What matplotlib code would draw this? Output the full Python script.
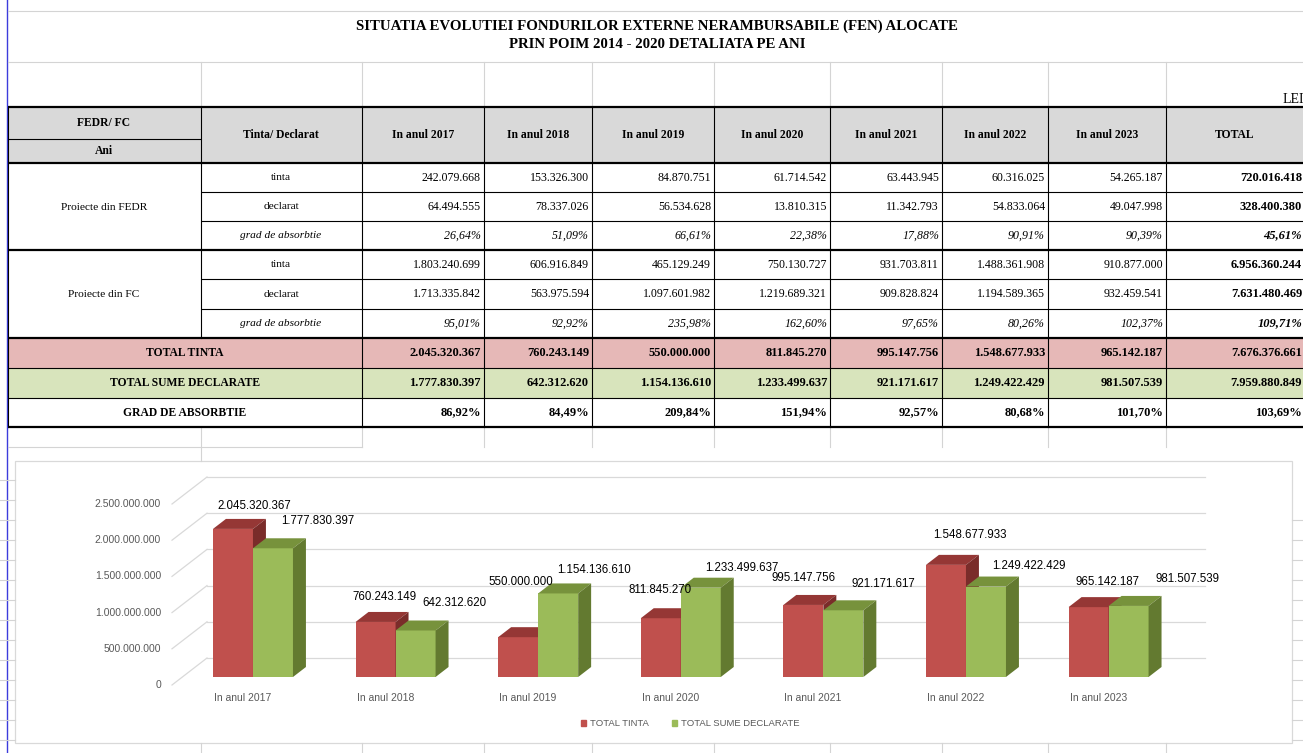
import matplotlib

matplotlib.use("Agg")
import matplotlib.pyplot as plt  # noqa: E402
from matplotlib.patches import Patch, Polygon, Rectangle  # noqa: E402

# ---- data (lei) -------------------------------------------------------------
columns = ["In anul 2017", "In anul 2018", "In anul 2019", "In anul 2020",
           "In anul 2021", "In anul 2022", "In anul 2023", "TOTAL"]

fedr_tinta = [242079668, 153326300, 84870751, 61714542, 63443945, 60316025, 54265187, 720016418]
fedr_declarat = [64494555, 78337026, 56534628, 13810315, 11342793, 54833064, 49047998, 328400380]
fedr_grad = [26.64, 51.09, 66.61, 22.38, 17.88, 90.91, 90.39, 45.61]

fc_tinta = [1803240699, 606916849, 465129249, 750130727, 931703811, 1488361908, 910877000, 6956360244]
fc_declarat = [1713335842, 563975594, 1097601982, 1219689321, 909828824, 1194589365, 932459541, 7631480469]
fc_grad = [95.01, 92.92, 235.98, 162.60, 97.65, 80.26, 102.37, 109.71]

total_tinta = [2045320367, 760243149, 550000000, 811845270, 995147756, 1548677933, 965142187, 7676376661]
total_declarat = [1777830397, 642312620, 1154136610, 1233499637, 921171617, 1249422429, 981507539, 7959880849]
grad_total = [86.92, 84.49, 209.84, 151.94, 92.57, 80.68, 101.70, 103.69]

y_ticks = [0, 500000000, 1000000000, 1500000000, 2000000000, 2500000000]

RED, RED_TOP, RED_SIDE = "#C0504D", "#953735", "#7A2C2A"
GRN, GRN_TOP, GRN_SIDE = "#9BBB59", "#77923C", "#637A30"
GRID = "#d9d9d9"
SHEET = "#d4d4d4"
SERIF = "Liberation Serif"
SANS = "Liberation Sans"


def fmt_int(v):
    return f"{v:,}".replace(",", ".")


def fmt_pct(p):
    return f"{p:.2f}%".replace(".", ",")


W, H = 1303, 753
fig = plt.figure(figsize=(W / 100, H / 100), dpi=100, facecolor="white")
bg = fig.add_axes([0, 0, 1, 1], zorder=1)
bg.set_xlim(0, W)
bg.set_ylim(H, 0)
bg.axis("off")

# ---- spreadsheet frame ------------------------------------------------------
col_x = [8, 201, 362, 484, 592, 714, 830, 942, 1048, 1166, 1305]
row_y = [163, 192, 221, 250, 279, 309, 338, 368, 398, 427]
thin, thick = 0.8, 1.6

bg.plot([7, 7], [0, H], color="#3c3cdc", lw=1.0)
for y in (11, 62):
    bg.plot([8, W], [y, y], color=SHEET, lw=0.8)
for x in col_x[1:-1]:
    bg.plot([x, x], [62, 107], color=SHEET, lw=0.8)
    bg.plot([x, x], [427, 461 if x == 201 else 447], color=SHEET, lw=0.8)
    bg.plot([x, x], [743, H], color=SHEET, lw=0.8)
bg.plot([8, 362], [447, 447], color=SHEET, lw=0.8)
for k in range(14):
    bg.plot([0, 15], [480 + 20 * k, 480 + 20 * k], color=SHEET, lw=0.8)
for k in range(12):
    bg.plot([1292, W], [520 + 20 * k, 520 + 20 * k], color=SHEET, lw=0.8)

bg.text(657, 26, "SITUATIA EVOLUTIEI FONDURILOR EXTERNE NERAMBURSABILE (FEN) ALOCATE",
        family=SERIF, weight="bold", fontsize=10.7, ha="center", va="center")
bg.text(657, 44, "PRIN POIM 2014 - 2020 DETALIATA PE ANI",
        family=SERIF, weight="bold", fontsize=10.7, ha="center", va="center")
bg.text(1283, 99, "LEI", family=SERIF, fontsize=10, ha="left", va="center")

# ---- table ------------------------------------------------------------------
bg.add_patch(Rectangle((8, 107), 1302, 56, facecolor="#D9D9D9", edgecolor="none"))
bg.add_patch(Rectangle((8, 338), 1302, 30, facecolor="#E6B8B7", edgecolor="none"))
bg.add_patch(Rectangle((8, 368), 1302, 30, facecolor="#D8E4BC", edgecolor="none"))

for y, lw, x0 in [(107, thick, 8), (139, thin, 8), (163, thick, 8), (192, thin, 201),
                  (221, thin, 201), (250, thick, 8), (279, thin, 201), (309, thin, 201),
                  (338, thick, 8), (368, thin, 8), (398, thin, 8), (427, thick, 8)]:
    x1 = 201 if y == 139 else W
    bg.plot([x0, x1], [y, y], color="black", lw=lw, solid_capstyle="butt")
for x in col_x[:-1]:
    y1 = 338 if x == 201 else 427
    bg.plot([x, x], [107, y1], color="black", lw=thin)

bg.text(104, 123, "FEDR/ FC", family=SERIF, weight="bold", fontsize=8.4, ha="center", va="center")
bg.text(104, 151, "Ani", family=SERIF, weight="bold", fontsize=8.4, ha="center", va="center")
bg.text(281, 135, "Tinta/ Declarat", family=SERIF, weight="bold", fontsize=8.4,
        ha="center", va="center")
for j, name in enumerate(columns):
    cx = (col_x[j + 2] + col_x[j + 3]) / 2 if j < 7 else 1235
    bg.text(cx, 135, name, family=SERIF, weight="bold", fontsize=8.4, ha="center", va="center")

bg.text(104, 207, "Proiecte din FEDR", family=SERIF, fontsize=8.2, ha="center", va="center")
bg.text(104, 294, "Proiecte din FC", family=SERIF, fontsize=8.2, ha="center", va="center")

table_rows = [
    ("tinta", fedr_tinta, False), ("declarat", fedr_declarat, False),
    ("grad de absorbtie", fedr_grad, True),
    ("tinta", fc_tinta, False), ("declarat", fc_declarat, False),
    ("grad de absorbtie", fc_grad, True),
    ("TOTAL TINTA", total_tinta, False), ("TOTAL SUME DECLARATE", total_declarat, False),
    ("GRAD DE ABSORBTIE", grad_total, True),
]
for r, (label, vals, pct) in enumerate(table_rows):
    cy = (row_y[r] + row_y[r + 1]) / 2
    is_total = r >= 6
    if is_total:
        bg.text(185, cy, label, family=SERIF, weight="bold", fontsize=8.4, ha="center", va="center")
    else:
        bg.text(281, cy, label, family=SERIF, fontsize=8.2, ha="center", va="center",
                style="italic" if pct else "normal")
    for j, v in enumerate(vals):
        bold = is_total or j == 7
        italic = pct and not is_total
        bg.text(col_x[j + 3] - 3, cy, fmt_pct(v) if pct else fmt_int(v), family=SERIF,
                weight="bold" if bold else "normal", style="italic" if italic else "normal",
                fontsize=9.0 if bold else 8.6, ha="right", va="center")

# ---- chart area -------------------------------------------------------------
bg.add_patch(Rectangle((15, 461), 1277, 282, facecolor="white", edgecolor=GRID, lw=0.9))

# pixel geometry of the Excel 3-D chart: category spacing, 1e9 lei height, wall depth
PX_CAT, PX_BN = 142.6, 72.4
X0_PX, Y0_PX = 242.6, 685
left_px, right_px, top_px, bot_px = 150, 1250, 455, 705
ax = fig.add_axes([left_px / W, (H - bot_px) / H, (right_px - left_px) / W, (bot_px - top_px) / H],
                  zorder=2)
ax.patch.set_visible(False)
ax.axis("off")
ax.set_xlim((left_px - X0_PX) / PX_CAT, (right_px - X0_PX) / PX_CAT)
ax.set_ylim((Y0_PX - bot_px) / PX_BN * 1e9, (Y0_PX - top_px) / PX_BN * 1e9)

DX, DY = 35 / PX_CAT, 27 / PX_BN * 1e9
BW = 40 / PX_CAT
TF, TB = 8 / 27, 18 / 27
XL, XR = (172 - X0_PX) / PX_CAT, (1205 - X0_PX) / PX_CAT

for v in y_ticks:
    ax.plot([XL, XL + DX], [v, v + DY], color=GRID, lw=0.9, zorder=1)
    ax.plot([XL + DX, XR], [v + DY, v + DY], color=GRID, lw=0.9, zorder=1)
    ax.annotate(fmt_int(v), (XL, v), xytext=(-11, 0), textcoords="offset pixels",
                ha="right", va="center", family=SANS, fontsize=7.5, color="#595959")


def bar3d(x0, h, face, top, side):
    fl, fr = x0 + TF * DX, x0 + BW + TF * DX
    bl, br = x0 + TB * DX, x0 + BW + TB * DX
    yf, yb = TF * DY, TB * DY
    ax.add_patch(Polygon([(fl, yf), (fr, yf), (fr, h + yf), (fl, h + yf)], closed=True,
                         facecolor=face, edgecolor="none", zorder=3))
    ax.add_patch(Polygon([(fl, h + yf), (fr, h + yf), (br, h + yb), (bl, h + yb)], closed=True,
                         facecolor=top, edgecolor="none", zorder=3))
    ax.add_patch(Polygon([(fr, yf), (br, yb), (br, h + yb), (fr, h + yf)], closed=True,
                         facecolor=side, edgecolor="none", zorder=3))
    return (fl + fr) / 2, h + yf


# Excel's own placement of the value labels (pixels from the bar's front top)
red_off = [(21, 23), (9, 25), (3, 55), (-1, 28), (0, 27), (24, 30), (19, 25)]
grn_off = [(45, 27), (39, 27), (36, 23), (41, 20), (40, 26), (43, 21), (59, 27)]

for i in range(7):
    rx, ry = bar3d(i - BW, total_tinta[i], RED, RED_TOP, RED_SIDE)
    gx, gy = bar3d(i, total_declarat[i], GRN, GRN_TOP, GRN_SIDE)
    ax.annotate(fmt_int(total_tinta[i]), (rx, ry), xytext=red_off[i], textcoords="offset pixels",
                ha="center", va="center", family=SANS, fontsize=8.3, color="black", zorder=4)
    ax.annotate(fmt_int(total_declarat[i]), (gx, gy), xytext=grn_off[i],
                textcoords="offset pixels", ha="center", va="center", family=SANS,
                fontsize=8.3, color="black", zorder=4)
    ax.annotate(columns[i], (i, 0), xytext=(0, -13), textcoords="offset pixels",
                ha="center", va="center", family=SANS, fontsize=7.5, color="#595959")

fig.legend(handles=[Patch(color=RED), Patch(color=GRN)],
           labels=["TOTAL TINTA", "TOTAL SUME DECLARATE"],
           loc="center", bbox_to_anchor=(690 / W, 1 - 724 / H), ncol=2, frameon=False,
           prop={"family": SANS, "size": 6.8}, labelcolor="#595959",
           handlelength=0.6, handleheight=0.6, handletextpad=0.4, columnspacing=2.4)

fig.savefig("out.png", dpi=100, facecolor="white")
